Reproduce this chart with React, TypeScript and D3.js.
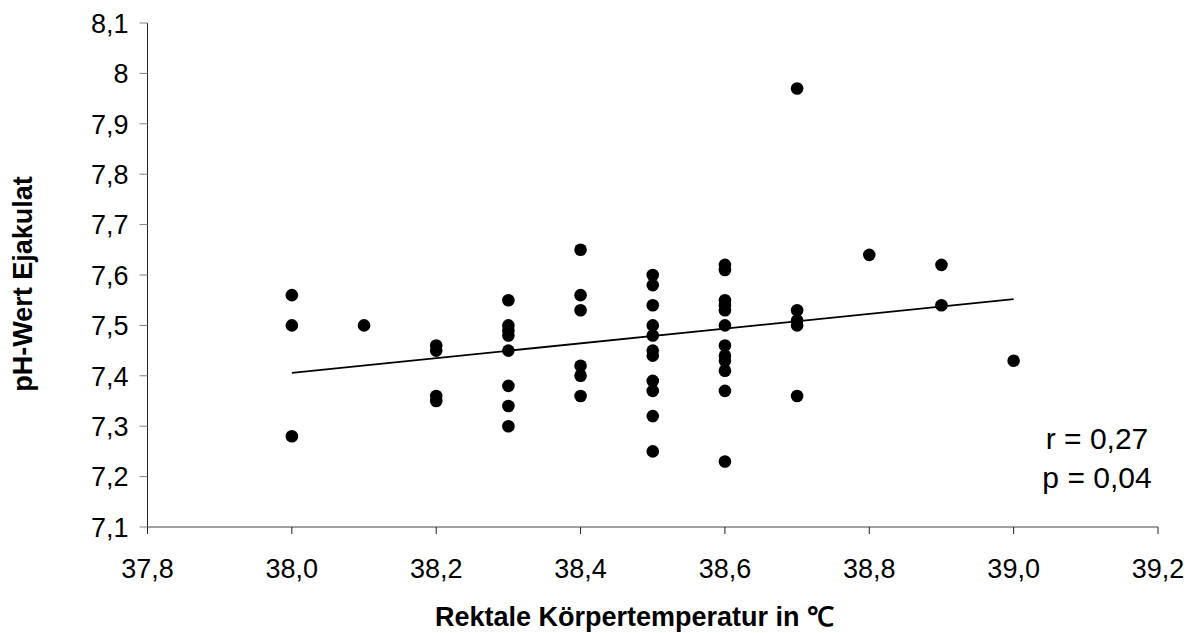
import React from "react";
import * as d3 from "d3";

// Rectal body temperature (°C) for each measured ejaculate
const temperature = [
  38.0, 38.0, 38.0,
  38.1,
  38.2, 38.2, 38.2, 38.2,
  38.3, 38.3, 38.3, 38.3, 38.3, 38.3, 38.3, 38.3,
  38.4, 38.4, 38.4, 38.4, 38.4, 38.4,
  38.5, 38.5, 38.5, 38.5, 38.5, 38.5, 38.5, 38.5, 38.5, 38.5, 38.5,
  38.6, 38.6, 38.6, 38.6, 38.6, 38.6, 38.6, 38.6, 38.6, 38.6, 38.6, 38.6,
  38.7, 38.7, 38.7, 38.7, 38.7,
  38.8,
  38.9, 38.9,
  39.0,
];

// Ejaculate pH, paired with the temperatures above
const phValue = [
  7.56, 7.50, 7.28,
  7.50,
  7.46, 7.45, 7.36, 7.35,
  7.55, 7.50, 7.49, 7.48, 7.45, 7.38, 7.34, 7.30,
  7.65, 7.56, 7.53, 7.42, 7.40, 7.36,
  7.60, 7.58, 7.54, 7.50, 7.48, 7.45, 7.44, 7.39, 7.37, 7.32, 7.25,
  7.62, 7.61, 7.55, 7.54, 7.53, 7.50, 7.46, 7.44, 7.43, 7.41, 7.37, 7.23,
  7.97, 7.53, 7.51, 7.50, 7.36,
  7.64,
  7.62, 7.54,
  7.43,
];

// Linear trend line endpoints
const trendX = [38.0, 39.0];
const trendY = [7.406, 7.552];

const xTicks = [37.8, 38.0, 38.2, 38.4, 38.6, 38.8, 39.0, 39.2];
const yTicks = [7.1, 7.2, 7.3, 7.4, 7.5, 7.6, 7.7, 7.8, 7.9, 8.0, 8.1];

const statLines = ["r = 0,27", "p = 0,04"];

const W = 1195;
const H = 633;
const FONT = "'Liberation Sans', Arial, Helvetica, sans-serif";

export default function App() {
  const x = d3.scaleLinear().domain([37.8, 39.2]).range([147.5, 1158]);
  const y = d3.scaleLinear().domain([7.1, 8.1]).range([527, 23]);

  const fmtX = (v: number) => v.toFixed(1).replace(".", ",");
  const fmtY = (v: number) => String(+v.toFixed(1)).replace(".", ",");

  const trend = d3
    .line<number>()
    .x((_, i) => x(trendX[i]))
    .y((d) => y(d))(trendY);

  return (
    <svg
      width={W}
      height={H}
      style={{ position: "absolute", left: 0, top: 0, background: "#fff" }}
      fontFamily={FONT}
    >
      {/* y axis */}
      <line x1={x(37.8)} x2={x(37.8)} y1={y(8.1)} y2={y(7.1)} stroke="#222" strokeWidth={1} />
      {yTicks.map((t) => (
        <g key={t}>
          <line x1={x(37.8) - 8} x2={x(37.8)} y1={y(t)} y2={y(t)} stroke="#808080" strokeWidth={1} />
          <text x={x(37.8) - 19} y={y(t)} dy="0.36em" textAnchor="end" fontSize={27} fill="#000">
            {fmtY(t)}
          </text>
        </g>
      ))}

      {/* x axis */}
      <line x1={x(37.8)} x2={x(39.2)} y1={y(7.1)} y2={y(7.1)} stroke="#808080" strokeWidth={1.5} />
      {xTicks.map((t) => (
        <g key={t}>
          <line x1={x(t)} x2={x(t)} y1={y(7.1)} y2={y(7.1) + 7} stroke="#222" strokeWidth={1} />
          <text x={x(t)} y={y(7.1) + 51} textAnchor="middle" fontSize={27} fill="#000">
            {fmtX(t)}
          </text>
        </g>
      ))}

      {/* trend line */}
      <path d={trend ?? ""} fill="none" stroke="#000" strokeWidth={1.8} />

      {/* observations */}
      {temperature.map((t, i) => (
        <circle key={i} cx={x(t)} cy={y(phValue[i])} r={6.3} fill="#000" />
      ))}

      {/* correlation statistics */}
      {statLines.map((s, i) => (
        <text key={s} x={1097} y={449 + i * 39} textAnchor="middle" fontSize={30} fill="#000">
          {s}
        </text>
      ))}

      {/* axis titles */}
      <text x={435} y={626} textAnchor="start" fontSize={27} fontWeight="bold" fill="#000">
        Rektale Körpertemperatur in ℃
      </text>
      <text
        transform={`translate(32, 284) rotate(-90)`}
        textAnchor="middle"
        fontSize={27}
        fontWeight="bold"
        fill="#000"
      >
        pH-Wert Ejakulat
      </text>
    </svg>
  );
}
